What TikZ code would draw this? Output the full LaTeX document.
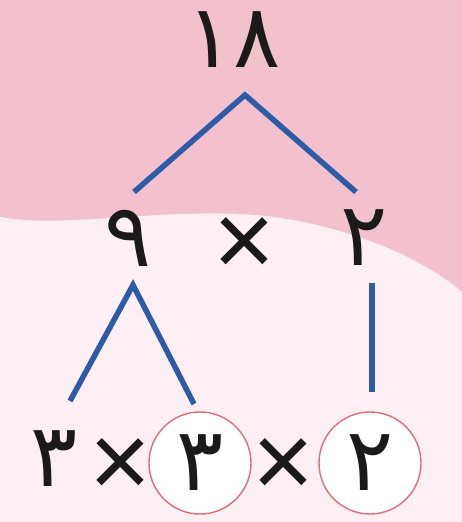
\documentclass[tikz,border=0pt]{standalone}
\usepackage{fontspec}
\newfontfamily\fa[Script=Arabic]{DejaVu Sans}
\newfontfamily\sym{Liberation Sans}
\definecolor{bgtop}{HTML}{F3C1CD}
\definecolor{bgbot}{HTML}{FDEFF4}
\definecolor{treeblue}{HTML}{2D5BA5}
\definecolor{ringred}{HTML}{DD6F7B}
\definecolor{ink}{HTML}{1A1A1A}
\tikzset{
  num/.style={inner sep=0pt, text=ink, font=\fa\fontsize{88}{90}\selectfont},
  times/.style={inner sep=0pt, text=ink, font=\sym\fontsize{106}{108}\selectfont},
  ring/.style={circle, draw=ringred, fill=white, text=ink, line width=1.4pt, minimum size=102pt, inner sep=0pt, font=\fa\fontsize{88}{90}\selectfont},
  branch/.style={draw=treeblue, line width=5.5pt}
}
\begin{document}
\begin{tikzpicture}[x=1pt,y=-1pt]
\useasboundingbox (0,0) rectangle (462,522);
\fill[bgtop] (0,0) rectangle (462,522);
\fill[bgbot] (0,217) .. controls (60,228) and (150,210) .. (240,214) .. controls (330,218) and (420,255) .. (462,292) -- (462,522) -- (0,522) -- cycle;

\node[num] (n18) at (234,40) {۱۸};
\node[num] (n9) at (128,238) {۹};
\node[times] (x1) at (244,247) {×};
\node[num] (n2) at (364,238) {۲};

\node[num] (b3) at (54,459) {۳};
\node[ring] (c3) at (200,463) {۳};
\node[ring] (c2) at (370,463) {۲};
\node[times] (x2) at (120,468) {×};
\node[times] (x3) at (283,468) {×};

\coordinate (a1) at (245,95);
\coordinate (e1) at (134,192);
\coordinate (e2) at (356,192);
\coordinate (a2) at (133,285);
\coordinate (e3) at (70,401);
\coordinate (e4) at (194,404);
\coordinate (v1) at (372,283);
\coordinate (v2) at (372,392);

\draw[branch] (e1) -- (a1) -- (e2);
\draw[branch] (e3) -- (a2) -- (e4);
\draw[branch] (v1) -- (v2);
\end{tikzpicture}
\end{document}
